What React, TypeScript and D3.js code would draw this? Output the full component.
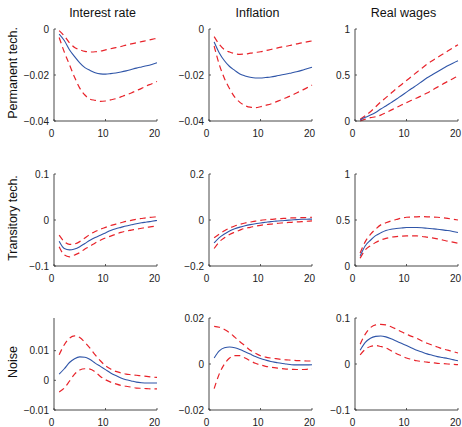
import React from "react";
import * as d3 from "d3";

const horizons = d3.range(1, 21);
const colTitles = ["Interest rate", "Inflation", "Real wages"];
const rowTitles = ["Permanent tech.", "Transitory tech.", "Noise"];

// y-domains and ticks per panel [row][col]
const yDomains = [
  [[-0.04, 0], [-0.04, 0], [0, 1]],
  [[-0.1, 0.1], [-0.2, 0.2], [0, 1]],
  [[-0.01, 0.021], [-0.02, 0.02], [-0.1, 0.1]],
];
const yTicks = [
  [[-0.04, -0.02, 0], [-0.04, -0.02, 0], [0, 0.5, 1]],
  [[-0.1, 0, 0.1], [-0.2, 0, 0.2], [0, 0.5, 1]],
  [[-0.01, 0, 0.01], [-0.02, 0, 0.02], [-0.1, 0, 0.1]],
];
const xTicks = [0, 10, 20];

// Permanent tech.
const permRateMed = [-0.0022,-0.005,-0.009,-0.012,-0.0147,-0.0168,-0.018,-0.019,-0.0195,-0.0196,-0.0194,-0.0191,-0.0187,-0.0182,-0.0176,-0.017,-0.0165,-0.016,-0.0154,-0.0147];
const permRateHi = [-0.0007,-0.003,-0.006,-0.008,-0.009,-0.0097,-0.01,-0.0099,-0.0096,-0.0091,-0.0086,-0.0081,-0.0076,-0.007,-0.0065,-0.006,-0.0055,-0.005,-0.0045,-0.004];
const permRateLo = [-0.0037,-0.01,-0.0155,-0.021,-0.0257,-0.0287,-0.0305,-0.031,-0.0315,-0.0313,-0.0308,-0.0303,-0.0295,-0.0287,-0.0278,-0.0268,-0.0258,-0.0247,-0.0238,-0.0228];

const permInflMed = [-0.0056,-0.0104,-0.0138,-0.0163,-0.018,-0.0196,-0.0204,-0.021,-0.0213,-0.0213,-0.0211,-0.0209,-0.0205,-0.02,-0.0196,-0.0191,-0.0186,-0.018,-0.0173,-0.0166];
const permInflHi = [-0.0033,-0.0067,-0.009,-0.01,-0.0107,-0.011,-0.0109,-0.0105,-0.0102,-0.0099,-0.0094,-0.0089,-0.0084,-0.0079,-0.0075,-0.007,-0.0065,-0.006,-0.0056,-0.0052];
const permInflLo = [-0.0074,-0.0155,-0.0215,-0.026,-0.0296,-0.0319,-0.0333,-0.034,-0.0342,-0.0338,-0.0332,-0.0326,-0.0317,-0.0308,-0.0299,-0.0289,-0.0278,-0.0267,-0.0256,-0.0244];

const permWageMed = [0.01,0.04,0.064,0.093,0.13,0.164,0.2,0.236,0.275,0.314,0.353,0.39,0.43,0.47,0.503,0.536,0.568,0.6,0.628,0.654];
const permWageHi = [0.02,0.057,0.1,0.154,0.207,0.254,0.302,0.35,0.395,0.44,0.485,0.53,0.575,0.618,0.655,0.69,0.725,0.76,0.795,0.83];
const permWageLo = [0,0.02,0.036,0.046,0.064,0.09,0.118,0.146,0.173,0.2,0.225,0.25,0.277,0.304,0.336,0.368,0.4,0.43,0.46,0.49];

// Transitory tech.
const tranRateMed = [-0.046,-0.062,-0.065,-0.063,-0.058,-0.051,-0.044,-0.038,-0.033,-0.028,-0.023,-0.019,-0.016,-0.013,-0.0105,-0.008,-0.006,-0.0045,-0.0027,-0.001];
const tranRateHi = [-0.033,-0.047,-0.053,-0.052,-0.047,-0.039,-0.031,-0.025,-0.02,-0.016,-0.012,-0.009,-0.006,-0.003,-0.0008,0.0015,0.0033,0.005,0.006,0.007];
const tranRateLo = [-0.058,-0.076,-0.08,-0.076,-0.071,-0.063,-0.057,-0.05,-0.044,-0.039,-0.035,-0.031,-0.027,-0.024,-0.022,-0.02,-0.018,-0.016,-0.0145,-0.013];

const tranInflMed = [-0.1,-0.077,-0.061,-0.048,-0.038,-0.031,-0.025,-0.02,-0.016,-0.013,-0.01,-0.007,-0.005,-0.003,-0.0015,0,0.0015,0.003,0.0035,0.004];
const tranInflHi = [-0.077,-0.061,-0.047,-0.035,-0.026,-0.019,-0.013,-0.009,-0.005,-0.0015,0.001,0.003,0.0045,0.006,0.0075,0.009,0.0095,0.01,0.011,0.012];
const tranInflLo = [-0.124,-0.095,-0.077,-0.063,-0.053,-0.044,-0.036,-0.032,-0.027,-0.023,-0.02,-0.018,-0.015,-0.013,-0.0115,-0.01,-0.0085,-0.007,-0.0055,-0.004];

const tranWageMed = [0.11,0.22,0.28,0.33,0.36,0.385,0.4,0.407,0.413,0.418,0.419,0.418,0.415,0.41,0.405,0.4,0.393,0.385,0.375,0.364];
const tranWageHi = [0.14,0.265,0.345,0.4,0.447,0.47,0.49,0.505,0.52,0.53,0.533,0.535,0.536,0.535,0.533,0.53,0.524,0.517,0.509,0.5];
const tranWageLo = [0.085,0.175,0.22,0.255,0.283,0.3,0.313,0.32,0.324,0.327,0.328,0.327,0.321,0.313,0.305,0.295,0.283,0.27,0.259,0.247];

// Noise
const noiseRateMed = [0.0021,0.0039,0.006,0.0073,0.0079,0.0078,0.007,0.0058,0.0047,0.0036,0.0025,0.0016,0.0008,0.0002,-0.0002,-0.0006,-0.0008,-0.0009,-0.0009,-0.0009];
const noiseRateHi = [0.0086,0.012,0.0142,0.015,0.0144,0.0128,0.0108,0.0086,0.0066,0.0049,0.0038,0.003,0.0025,0.0021,0.0019,0.0017,0.0015,0.0013,0.0011,0.001];
const noiseRateLo = [-0.0039,-0.0026,-0.0003,0.0021,0.0035,0.0039,0.0038,0.0028,0.0013,0.0002,-0.0006,-0.0012,-0.0017,-0.002,-0.0023,-0.0026,-0.0027,-0.0028,-0.0029,-0.0029];

const noiseInflMed = [0.0026,0.0057,0.0071,0.0074,0.0071,0.0063,0.0053,0.0043,0.0033,0.0024,0.0017,0.0011,0.0007,0.0003,0,-0.0003,-0.0004,-0.0004,-0.0004,-0.0003];
const noiseInflHi = [0.0164,0.016,0.015,0.0136,0.0117,0.0097,0.0079,0.006,0.0047,0.0036,0.003,0.0026,0.0023,0.002,0.0018,0.0017,0.0015,0.0014,0.0013,0.0013];
const noiseInflLo = [-0.0107,-0.0043,0,0.0026,0.0036,0.0036,0.0026,0.0014,0.0003,-0.0004,-0.001,-0.0014,-0.0017,-0.002,-0.0022,-0.0023,-0.0024,-0.0024,-0.0023,-0.0021];

const noiseWageMed = [0.03,0.047,0.056,0.06,0.061,0.059,0.055,0.05,0.045,0.04,0.035,0.03,0.026,0.022,0.019,0.016,0.014,0.012,0.0095,0.007];
const noiseWageHi = [0.043,0.065,0.079,0.085,0.086,0.085,0.081,0.076,0.07,0.065,0.06,0.056,0.05,0.045,0.041,0.037,0.033,0.03,0.027,0.024];
const noiseWageLo = [0.02,0.032,0.038,0.04,0.038,0.035,0.029,0.023,0.018,0.013,0.01,0.007,0.0055,0.004,0.0028,0.0015,0.0008,0,-0.0008,-0.0015];

const panels = [
  [
    [permRateMed, permRateLo, permRateHi],
    [permInflMed, permInflLo, permInflHi],
    [permWageMed, permWageLo, permWageHi],
  ],
  [
    [tranRateMed, tranRateLo, tranRateHi],
    [tranInflMed, tranInflLo, tranInflHi],
    [tranWageMed, tranWageLo, tranWageHi],
  ],
  [
    [noiseRateMed, noiseRateLo, noiseRateHi],
    [noiseInflMed, noiseInflLo, noiseInflHi],
    [noiseWageMed, noiseWageLo, noiseWageHi],
  ],
];

const W = 462;
const H = 427;
const colLeft = [54, 209, 355];
const rowTop = [29, 174, 318];
const pw = 103;
const ph = 92;
const FONT = "'Liberation Sans', Arial, Helvetica, sans-serif";
const BLUE = "#2f55a8";
const RED = "#e8232a";
const AXIS = "#333";

function fmt(v: number): string {
  if (v === 0) return "0";
  const s = String(+v.toFixed(4));
  return s.replace("-", "\u2212");
}

function Panel({ r, c }: { r: number; c: number }) {
  const x0 = colLeft[c];
  const y0 = rowTop[r];
  const xs = d3.scaleLinear().domain([0, 20]).range([x0, x0 + pw]);
  const ys = d3.scaleLinear().domain(yDomains[r][c]).range([y0 + ph, y0]);
  const line = d3
    .line<number>()
    .x((_, i) => xs(horizons[i]))
    .y((d) => ys(d))
    .curve(d3.curveMonotoneX);
  const [med, lo, hi] = panels[r][c];
  const bottom = y0 + ph;
  return (
    <g>
      <path d={line(lo) || ""} fill="none" stroke={RED} strokeWidth={1.2} strokeDasharray="6,4" />
      <path d={line(hi) || ""} fill="none" stroke={RED} strokeWidth={1.2} strokeDasharray="6,4" />
      <path d={line(med) || ""} fill="none" stroke={BLUE} strokeWidth={1.1} />
      <line x1={x0} x2={x0} y1={y0} y2={bottom} stroke={AXIS} strokeWidth={0.9} />
      <line x1={x0} x2={x0 + pw} y1={bottom} y2={bottom} stroke={AXIS} strokeWidth={0.9} />
      {yTicks[r][c].map((t) => (
        <g key={"y" + t}>
          <line x1={x0} x2={x0 + 2} y1={ys(t)} y2={ys(t)} stroke={AXIS} strokeWidth={0.8} />
          <text x={x0 - 5} y={ys(t)} dy="0.35em" textAnchor="end" fontSize={10} fill="#222" fontFamily={FONT}>
            {fmt(t)}
          </text>
        </g>
      ))}
      {xTicks.map((t) => (
        <g key={"x" + t}>
          <line x1={xs(t)} x2={xs(t)} y1={bottom} y2={bottom - 2} stroke={AXIS} strokeWidth={0.8} />
          <text x={xs(t) - 2.5} y={bottom + 15.5} textAnchor="middle" fontSize={10} fill="#222" fontFamily={FONT}>
            {t}
          </text>
        </g>
      ))}
    </g>
  );
}

export default function App() {
  return (
    <svg width={W} height={H} style={{ display: "block", position: "absolute", left: 0, top: 0 }}>
      <rect width={W} height={H} fill="#fff" />
      {colTitles.map((t, c) => (
        <text key={t} x={colLeft[c] + pw / 2 - 3} y={17} textAnchor="middle" fontSize={12.5} fill="#111" fontFamily={FONT}>
          {t}
        </text>
      ))}
      {rowTitles.map((t, r) => (
        <text
          key={t}
          transform={`translate(17,${rowTop[r] + ph / 2 - 2}) rotate(-90)`}
          textAnchor="middle"
          fontSize={12.5}
          fill="#111"
          fontFamily={FONT}
        >
          {t}
        </text>
      ))}
      {[0, 1, 2].map((r) => [0, 1, 2].map((c) => <Panel key={r + "-" + c} r={r} c={c} />))}
    </svg>
  );
}
